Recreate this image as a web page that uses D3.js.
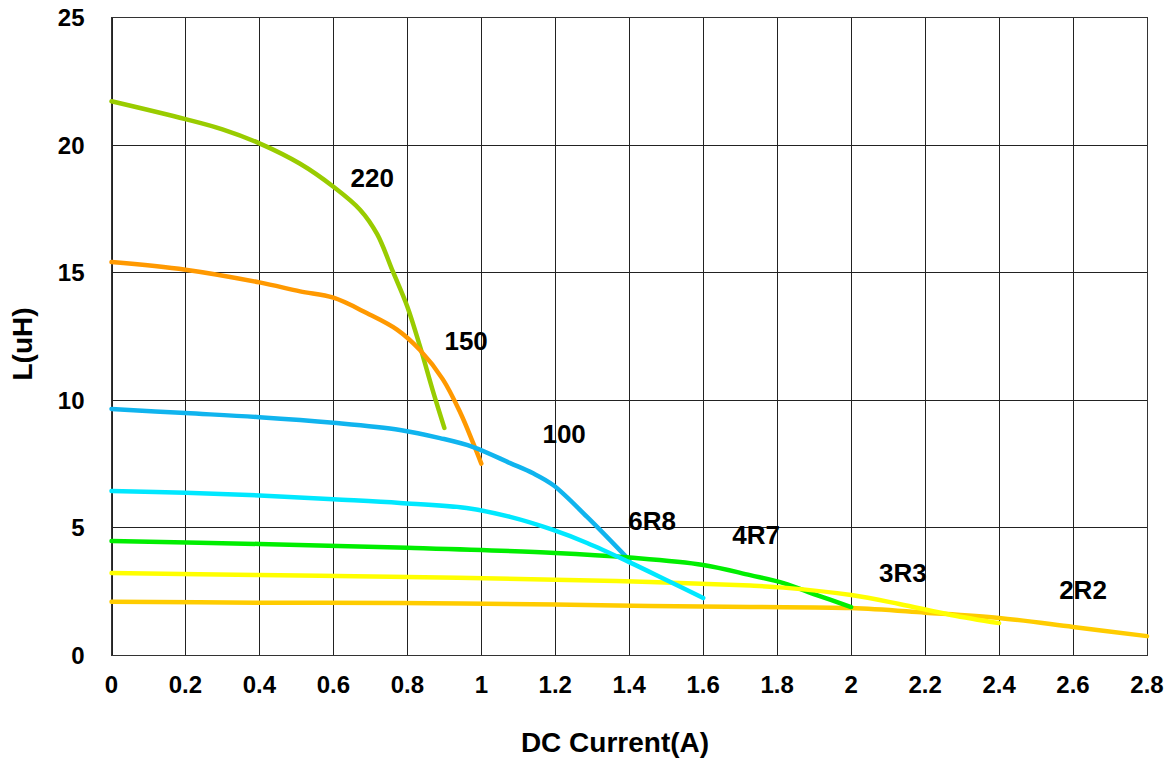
<!DOCTYPE html>
<html>
<head>
<meta charset="utf-8">
<script src="https://cdn.jsdelivr.net/npm/d3@7"></script>
<style>
  body { margin: 0; background: #fff; }
  text { font-family: Arial, "Liberation Sans", sans-serif; font-weight: bold; fill: #000; }
</style>
</head>
<body>
<div class="canvas"></div>
<script>
var width = 1170;
var height = 760;
// plot box edges (top is a reserved window name, so prefix these)
var plotLeft = 111.5, plotRight = 1147, plotTop = 17, plotBottom = 655;

// tick values
var xTicks = [0, 0.2, 0.4, 0.6, 0.8, 1, 1.2, 1.4, 1.6, 1.8, 2, 2.2, 2.4, 2.6, 2.8];
var yTicks = [0, 5, 10, 15, 20, 25];

// one x/y list per inductor part
var names = ['220', '150', '100', '2R2', '4R7', '3R3', '6R8'];
var colors = ['#99cc00', '#ff9900', '#10b4ee', '#ffcc00', '#00ee00', '#ffff00', '#00e8ff'];

var x220 = [0, 0.2, 0.3, 0.4, 0.51, 0.6, 0.672, 0.718, 0.761, 0.8, 0.834, 0.87, 0.9];
var y220 = [21.7, 21.0, 20.6, 20.05, 19.25, 18.35, 17.45, 16.5, 15.02, 13.65, 12.1, 10.3, 8.9];

var x150 = [0, 0.2, 0.4, 0.51, 0.6, 0.69, 0.772, 0.834, 0.896, 0.943, 0.978, 1.0];
var y150 = [15.4, 15.1, 14.6, 14.25, 14.0, 13.4, 12.75, 11.95, 10.8, 9.5, 8.3, 7.5];

var x100 = [0, 0.2, 0.4, 0.6, 0.78, 0.888, 0.978, 1.078, 1.14, 1.194, 1.286, 1.4];
var y100 = [9.64, 9.48, 9.32, 9.1, 8.82, 8.5, 8.15, 7.52, 7.12, 6.66, 5.41, 3.72];

var x6R8 = [0, 0.2, 0.4, 0.6, 0.78, 0.96, 1.078, 1.194, 1.286, 1.4, 1.5, 1.6];
var y6R8 = [6.43, 6.36, 6.25, 6.1, 5.96, 5.76, 5.41, 4.9, 4.39, 3.64, 2.94, 2.23];

var x4R7 = [0, 0.4, 0.8, 1.2, 1.4, 1.6, 1.727, 1.817, 1.907, 2.0];
var y4R7 = [4.47, 4.35, 4.2, 4.0, 3.82, 3.53, 3.13, 2.82, 2.35, 1.88];

var x3R3 = [0, 0.4, 0.8, 1.2, 1.457, 1.727, 1.817, 2.0, 2.13, 2.27, 2.4];
var y3R3 = [3.21, 3.13, 3.06, 2.95, 2.86, 2.72, 2.64, 2.35, 2.0, 1.57, 1.25];

var x2R2 = [0, 0.4, 0.78, 1.2, 1.457, 1.727, 2.0, 2.2, 2.4, 2.6, 2.8];
var y2R2 = [2.09, 2.05, 2.04, 1.98, 1.92, 1.88, 1.84, 1.66, 1.45, 1.1, 0.74];

var seriesX = [x220, x150, x100, x2R2, x4R7, x3R3, x6R8];
var seriesY = [y220, y150, y100, y2R2, y4R7, y3R3, y6R8];

// where each part name sits (data coords)
var labelX = [0.705, 0.959, 1.224, 2.627, 1.743, 2.14, 1.462];
var labelY = [18.7, 12.3, 8.66, 2.55, 4.7, 3.23, 5.25];

var svg = d3.select('.canvas')
  .append('svg')
  .attr('width', width)
  .attr('height', height);

var xscale = d3.scaleLinear().domain([0, 2.8]).range([plotLeft, plotRight]);
var yscale = d3.scaleLinear().domain([0, 25]).range([plotBottom, plotTop]);

// grid lines
svg.append('g')
  .attr('transform', 'translate(0,' + plotBottom + ')')
  .call(d3.axisBottom(xscale).tickValues(xTicks).tickSize(-(plotBottom - plotTop)).tickFormat(''))
  .call(function(g) {
    g.select('.domain').remove();
    g.selectAll('line').attr('stroke', '#222').attr('shape-rendering', 'crispEdges');
  });

svg.append('g')
  .attr('transform', 'translate(' + plotLeft + ',0)')
  .call(d3.axisLeft(yscale).tickValues(yTicks).tickSize(-(plotRight - plotLeft)).tickFormat(''))
  .call(function(g) {
    g.select('.domain').remove();
    g.selectAll('line').attr('stroke', '#222').attr('shape-rendering', 'crispEdges');
  });

// frame
svg.append('rect')
  .attr('x', plotLeft).attr('y', plotTop)
  .attr('width', plotRight - plotLeft).attr('height', plotBottom - plotTop)
  .attr('fill', 'none').attr('stroke', '#333')
  .attr('shape-rendering', 'crispEdges');

// tick labels
svg.selectAll('.xlab')
  .data(xTicks)
  .enter()
  .append('text')
  .attr('x', function(d) { return xscale(d); })
  .attr('y', plotBottom + 38)
  .attr('text-anchor', 'middle')
  .style('font-size', '24px')
  .text(function(d) { return d; });

svg.selectAll('.ylab')
  .data(yTicks)
  .enter()
  .append('text')
  .attr('x', plotLeft - 27)
  .attr('y', function(d) { return yscale(d) + 9; })
  .attr('text-anchor', 'end')
  .style('font-size', '24px')
  .text(function(d) { return d; });

// axis titles
svg.append('text')
  .attr('x', 615).attr('y', 752)
  .attr('text-anchor', 'middle')
  .style('font-size', '28px')
  .text('DC Current(A)');

svg.append('text')
  .attr('transform', 'translate(32,344) rotate(-90)')
  .attr('text-anchor', 'middle')
  .style('font-size', '28px')
  .text('L(uH)');

// curves
var line = d3.line()
  .x(function(d) { return xscale(d[0]); })
  .y(function(d) { return yscale(d[1]); })
  .curve(d3.curveCatmullRom.alpha(0.5));

names.forEach(function(n, i) {
  var pts = seriesX[i].map(function(v, j) { return [v, seriesY[i][j]]; });
  svg.append('path')
    .datum(pts)
    .attr('d', line)
    .attr('fill', 'none')
    .attr('stroke', colors[i])
    .attr('stroke-width', 4.5)
    .attr('stroke-linecap', 'round');
});

// part names
svg.selectAll('.plab')
  .data(names)
  .enter()
  .append('text')
  .attr('x', function(d, i) { return xscale(labelX[i]); })
  .attr('y', function(d, i) { return yscale(labelY[i]) + 9; })
  .attr('text-anchor', 'middle')
  .style('font-size', '26px')
  .text(function(d) { return d; });
</script>
</body>
</html>
